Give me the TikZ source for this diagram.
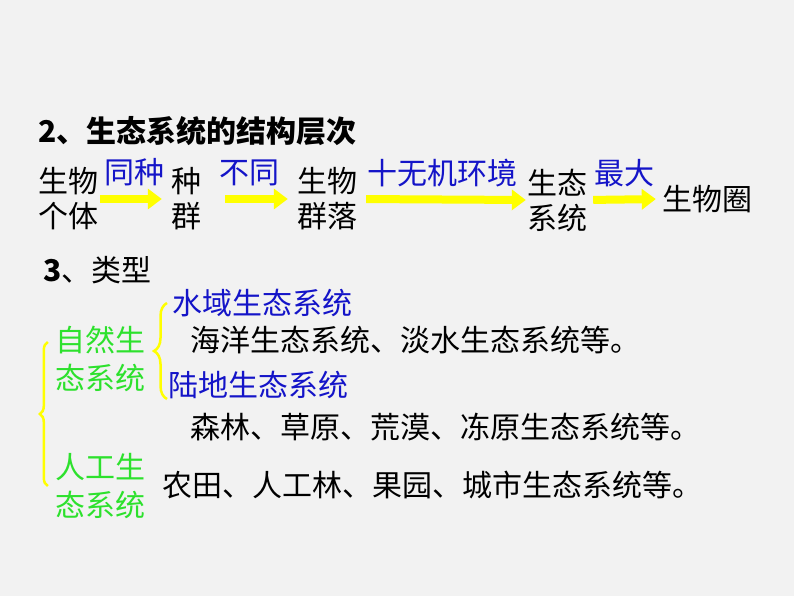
\documentclass[tikz,border=0pt]{standalone}
\usepackage{fontspec}
\setmainfont{Noto Sans CJK SC}
\usetikzlibrary{arrows.meta,decorations.pathreplacing}
\definecolor{pagegray}{RGB}{242,242,242}
\definecolor{lblblue}{RGB}{20,20,200}
\definecolor{kindgreen}{RGB}{45,225,45}
\definecolor{arryellow}{RGB}{255,255,0}
\begin{document}
\begin{tikzpicture}[x=1pt,y=-1pt,
  every node/.style={inner sep=0pt, font=\fontsize{30}{35}\selectfont},
  word/.style={align=center},
  lbl/.style={text=lblblue, above=9pt, midway},
  kind/.style={text=kindgreen, align=left, font=\fontsize{30}{38}\selectfont},
  yarrow/.style={arryellow, line width=8pt, -{Triangle[length=14pt,width=20pt]}},
  ybrace/.style={arryellow, line width=2.5pt, decorate, decoration={brace, amplitude=#1}}
  ]
  \fill[pagegray] (0,0) rectangle (794,596);
  \useasboundingbox (0,0) rectangle (794,596);

  \node[anchor=west] (title) at (38,131) {\textbf{2、生态系统的结构层次}};

  \node[word] (gtiti) at (68,199) {生物\\个体};
  \node[word] (zq) at (186,199) {种\\群};
  \node[word] (qluo) at (327,199) {生物\\群落};
  \node[word] (stxt) at (557,200) {生态\\系统};
  \node[word] (swq) at (707,199) {生物圈};

  \draw[yarrow, shorten <=2pt, shorten >=9pt] (gtiti.east) -- (zq.west)
    node[lbl] {同种};
  \draw[yarrow, shorten <=24pt, shorten >=9pt] (zq.east) -- (qluo.west)
    node[lbl] {不同};
  \draw[yarrow, shorten <=9pt, shorten >=1pt] (qluo.east) -- (stxt.west)
    node[lbl] {十无机环境};
  \draw[yarrow, shorten <=6pt, shorten >=6pt] (stxt.east) -- (swq.west)
    node[lbl] {最大};

  \node[anchor=west] (lx) at (43,270) {\textbf{3}、类型};

  \node[kind] (zr) at (100,359) {自然生\\态系统};
  \node[kind] (rg) at (100,486) {人工生\\态系统};

  \node[anchor=west, text=lblblue] (sy) at (172,303) {水域生态系统};
  \node[anchor=west] (hy) at (190,340) {海洋生态系统、淡水生态系统等。};
  \node[anchor=west, text=lblblue] (ld) at (168,385) {陆地生态系统};
  \node[anchor=west] (sl) at (190,427) {森林、草原、荒漠、冻原生态系统等。};
  \node[anchor=west] (nt) at (162,485) {农田、人工林、果园、城市生态系统等。};

  \draw[ybrace=13pt] ([xshift=-1pt]ld.south west) -- ([xshift=-5pt]sy.west);
  \draw[ybrace=8pt] ([xshift=-7pt]rg.west) -- ([xshift=-7pt,yshift=17pt]zr.west);
\end{tikzpicture}
\end{document}
